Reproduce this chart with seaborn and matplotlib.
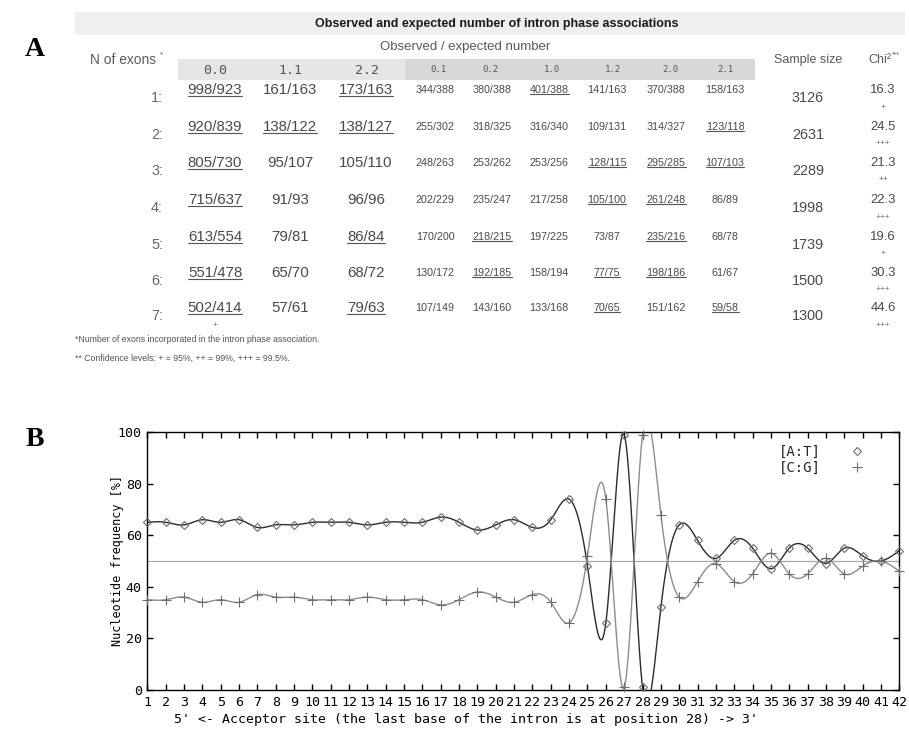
import numpy as np
import pandas as pd
import seaborn as sns
import matplotlib
matplotlib.use("Agg")
import matplotlib.pyplot as plt
from matplotlib.patches import Rectangle
from matplotlib.lines import Line2D
from matplotlib import font_manager

# ---------------------------------------------------------------- data
# Panel B: nucleotide frequencies around the acceptor site
positions = list(range(1, 43))
at_freq = [65, 65, 64, 66, 65, 66, 63, 64, 64, 65, 65, 65, 64, 65, 65, 65, 67, 65, 62, 64,
           66, 63, 66, 74, 48, 26, 99, 1, 32, 64, 58, 51, 58, 55, 47, 55, 55, 49, 55, 52,
           50, 54]
cg_freq = [35, 35, 36, 34, 35, 34, 37, 36, 36, 35, 35, 35, 36, 35, 35, 35, 33, 35, 38, 36,
           34, 37, 34, 26, 52, 74, 1, 99, 68, 36, 42, 49, 42, 45, 53, 45, 45, 51, 45, 48,
           50, 46]

# Panel A: observed / expected intron phase associations
phases = ["0.0", "1.1", "2.2", "0.1", "0.2", "1.0", "1.2", "2.0", "2.1"]
exon_rows = ["1:", "2:", "3:", "4:", "5:", "6:", "7:"]
obs_00 = [998, 920, 805, 715, 613, 551, 502]
exp_00 = [923, 839, 730, 637, 554, 478, 414]
obs_11 = [161, 138, 95, 91, 79, 65, 57]
exp_11 = [163, 122, 107, 93, 81, 70, 61]
obs_22 = [173, 138, 105, 96, 86, 68, 79]
exp_22 = [163, 127, 110, 96, 84, 72, 63]
obs_01 = [344, 255, 248, 202, 170, 130, 107]
exp_01 = [388, 302, 263, 229, 200, 172, 149]
obs_02 = [380, 318, 253, 235, 218, 192, 143]
exp_02 = [388, 325, 262, 247, 215, 185, 160]
obs_10 = [401, 316, 253, 217, 197, 158, 133]
exp_10 = [388, 340, 256, 258, 225, 194, 168]
obs_12 = [141, 109, 128, 105, 73, 77, 70]
exp_12 = [163, 131, 115, 100, 87, 75, 65]
obs_20 = [370, 314, 295, 261, 235, 198, 151]
exp_20 = [388, 327, 285, 248, 216, 186, 162]
obs_21 = [158, 123, 107, 86, 68, 61, 59]
exp_21 = [163, 118, 103, 89, 78, 67, 58]
sample_size = [3126, 2631, 2289, 1998, 1739, 1500, 1300]
chi2 = [16.3, 24.5, 21.3, 22.3, 19.6, 30.3, 44.6]
conf = ["+", "+++", "++", "+++", "+", "+++", "+++"]
conf_00 = ["", "", "", "", "", "", "+"]

observed = [obs_00, obs_11, obs_22, obs_01, obs_02, obs_10, obs_12, obs_20, obs_21]
expected = [exp_00, exp_11, exp_22, exp_01, exp_02, exp_10, exp_12, exp_20, exp_21]

# ---------------------------------------------------------------- style
sns.set_style("ticks", rc={"axes.edgecolor": "black", "axes.linewidth": 1.0,
                           "xtick.color": "black", "ytick.color": "black"})


def has_font(name):
    try:
        font_manager.findfont(name, fallback_to_default=False)
        return True
    except Exception:
        return False


NARROW = "Liberation Sans Narrow" if has_font("Liberation Sans Narrow") else "Liberation Sans"
NSCALE = 1.0 if NARROW == "Liberation Sans Narrow" else 0.86
MONO = "DejaVu Sans Mono"
plt.rcParams["font.family"] = ["Liberation Sans", "DejaVu Sans"]

W, H = 909, 736
fig = plt.figure(figsize=(W / 100, H / 100), dpi=100)
fig.patch.set_facecolor("white")


def fx(x):
    return x / W


def fy(y):
    return 1 - y / H


def put(x, y, s, **kw):
    kw.setdefault("ha", "center")
    kw.setdefault("va", "center")
    return fig.text(fx(x), fy(y), s, **kw)


def band(x0, x1, y0, y1, color):
    fig.patches.append(Rectangle((fx(x0), fy(y1)), fx(x1) - fx(x0), fy(y0) - fy(y1),
                                 transform=fig.transFigure, facecolor=color,
                                 edgecolor="none", zorder=0))


# ---------------------------------------------------------------- panel A (table)
TXT = "#4a4a4a"
band(75, 905, 12, 35, "#efefef")
band(178, 405, 59, 80, "#e6e6e6")
band(405, 755, 59, 80, "#d8d8d8")

put(497, 24, "Observed and expected number of intron phase associations",
    fontsize=9, fontweight="bold", color="#1a1a1a")
put(465, 47, "Observed / expected number", fontsize=9.5, color="#5a5a5a")
put(123, 60, "N of exons", fontsize=11.5 * NSCALE, color="#5a5a5a", family=NARROW)
put(161, 55, "*", fontsize=6, color="#5a5a5a")
put(808, 60, "Sample size", fontsize=10.5 * NSCALE, color="#5a5a5a", family=NARROW)
put(880, 60, "Chi²", fontsize=10.5 * NSCALE, color="#5a5a5a", family=NARROW)
put(896, 55, "***", fontsize=5, color="#5a5a5a")

col_x = [215, 290, 366, 435, 492, 549, 607, 666, 725]
head_x = [215, 290, 367, 438, 490, 552, 613, 670, 725]
row_y = [90, 127, 163, 200, 237, 273, 308]

for j, ph in enumerate(phases):
    big = j < 3
    put(head_x[j], 70, ph, family=MONO, fontsize=9.5 if big else 6.5, color="#555555")

underlined = []
for j in range(len(phases)):
    big = j < 3
    for i in range(len(exon_rows)):
        o, e = observed[j][i], expected[j][i]
        t = put(col_x[j], row_y[i], f"{o}/{e}", family=NARROW,
                fontsize=(12.6 if big else 9.0) * NSCALE, color=TXT)
        if o > e:
            underlined.append(t)

for i, lab in enumerate(exon_rows):
    put(157, row_y[i] + 8, lab, family=NARROW, fontsize=12 * NSCALE, color="#666666")
    put(808, row_y[i] + 8, str(sample_size[i]), family=NARROW, fontsize=12 * NSCALE,
        color=TXT)
    put(883, row_y[i], f"{chi2[i]:.1f}", family=NARROW, fontsize=11 * NSCALE, color=TXT)
    put(883, row_y[i] + 17, conf[i], fontsize=6, color="#666666")
    if conf_00[i]:
        put(col_x[0], row_y[i] + 17, conf_00[i], fontsize=6, color="#666666")

put(75, 340, "*Number of exons incorporated in the intron phase association.",
    ha="left", fontsize=6.3, color="#555555")
put(75, 358, "** Confidence levels: + = 95%, ++ = 99%, +++ = 99.5%.",
    ha="left", fontsize=6.3, color="#555555")

# panel letters
put(35, 50, "A", family="Liberation Serif", fontweight="bold", fontsize=20, color="black")
put(35, 440, "B", family="Liberation Serif", fontweight="bold", fontsize=20, color="black")

# ---------------------------------------------------------------- panel B (profile)
X0, X1, Y0, Y1 = 147.3, 899.3, 432, 690
ax = fig.add_axes([fx(X0), fy(Y1), fx(X1) - fx(X0), fy(Y0) - fy(Y1)])


def natural_spline(x, y, xs):
    """Natural cubic spline through (x, y), evaluated at xs."""
    x = np.asarray(x, float)
    y = np.asarray(y, float)
    n = len(x)
    h = np.diff(x)
    A = np.zeros((n, n))
    r = np.zeros(n)
    A[0, 0] = A[-1, -1] = 1.0
    for i in range(1, n - 1):
        A[i, i - 1] = h[i - 1]
        A[i, i] = 2 * (h[i - 1] + h[i])
        A[i, i + 1] = h[i]
        r[i] = 3 * ((y[i + 1] - y[i]) / h[i] - (y[i] - y[i - 1]) / h[i - 1])
    c = np.linalg.solve(A, r)
    b = (y[1:] - y[:-1]) / h - h * (2 * c[:-1] + c[1:]) / 3
    d = (c[1:] - c[:-1]) / (3 * h)
    idx = np.clip(np.searchsorted(x, xs) - 1, 0, n - 2)
    dx = xs - x[idx]
    return y[idx] + b[idx] * dx + c[idx] * dx ** 2 + d[idx] * dx ** 3


fine = np.linspace(positions[0], positions[-1], 1500)
curves = pd.DataFrame({
    "pos": np.concatenate([fine, fine]),
    "freq": np.concatenate([natural_spline(positions, at_freq, fine),
                            natural_spline(positions, cg_freq, fine)]),
    "pair": ["[A:T]"] * len(fine) + ["[C:G]"] * len(fine),
})

ax.axhline(50, color="#a8a8a8", lw=0.9, zorder=1)
sns.lineplot(data=curves, x="pos", y="freq", hue="pair",
             palette={"[A:T]": "#2b2b2b", "[C:G]": "#8c8c8c"},
             lw=1.0, legend=False, ax=ax, zorder=2, sort=False, estimator=None)
ax.plot(positions, at_freq, ls="none", marker="D", ms=4.2, mfc="none",
        mec="#6e6e6e", mew=0.8, zorder=3, clip_on=False)
ax.plot(positions, cg_freq, ls="none", marker="+", ms=6.5, mec="#6e6e6e",
        mew=0.8, zorder=3, clip_on=False)

ax.set_xlim(positions[0], positions[-1])
ax.set_ylim(0, 100)
ax.set_xticks(positions)
ax.set_xticklabels([str(p) for p in positions], family=MONO, fontsize=9.6)
ax.set_yticks([0, 20, 40, 60, 80, 100])
ax.set_yticklabels(["0", "20", "40", "60", "80", "100"], family=MONO, fontsize=9.6)
ax.tick_params(direction="in", top=True, right=True, length=4.5, width=1, pad=4)
ax.set_xlabel("")
ax.set_ylabel("")
for s in ax.spines.values():
    s.set_visible(True)
    s.set_linewidth(1.0)
    s.set_color("black")

handles = [Line2D([], [], ls="none", marker="D", ms=4.2, mfc="none", mec="#6e6e6e", mew=0.8),
           Line2D([], [], ls="none", marker="+", ms=6.5, mec="#6e6e6e", mew=0.8)]
ax.legend(handles, ["[A:T]", "[C:G]"], loc="upper right",
          bbox_to_anchor=((883 - X0) / (X1 - X0), 0.997), frameon=False,
          markerfirst=False, handlelength=2.0, handletextpad=1.6, labelspacing=0.15,
          prop={"family": MONO, "size": 10})

put(117, 561, "Nucleotide frequency [%]", rotation=90, family=MONO, fontsize=8.5,
    color="black")
put(466, 719, "5' <- Acceptor site (the last base of the intron is at position 28) -> 3'",
    family=MONO, fontsize=9.5, color="black")

# underline the cells where the observed count exceeds the expected one
renderer = fig.canvas.get_renderer()
for t in underlined:
    bb = t.get_window_extent(renderer)
    yline = (bb.y0 + 1) / H / (fig.dpi / 100)
    fig.lines.append(Line2D([bb.x0 / (W * fig.dpi / 100), bb.x1 / (W * fig.dpi / 100)],
                            [yline, yline], transform=fig.transFigure,
                            color="#555555", lw=0.8))

fig.savefig("out.png", dpi=100)
